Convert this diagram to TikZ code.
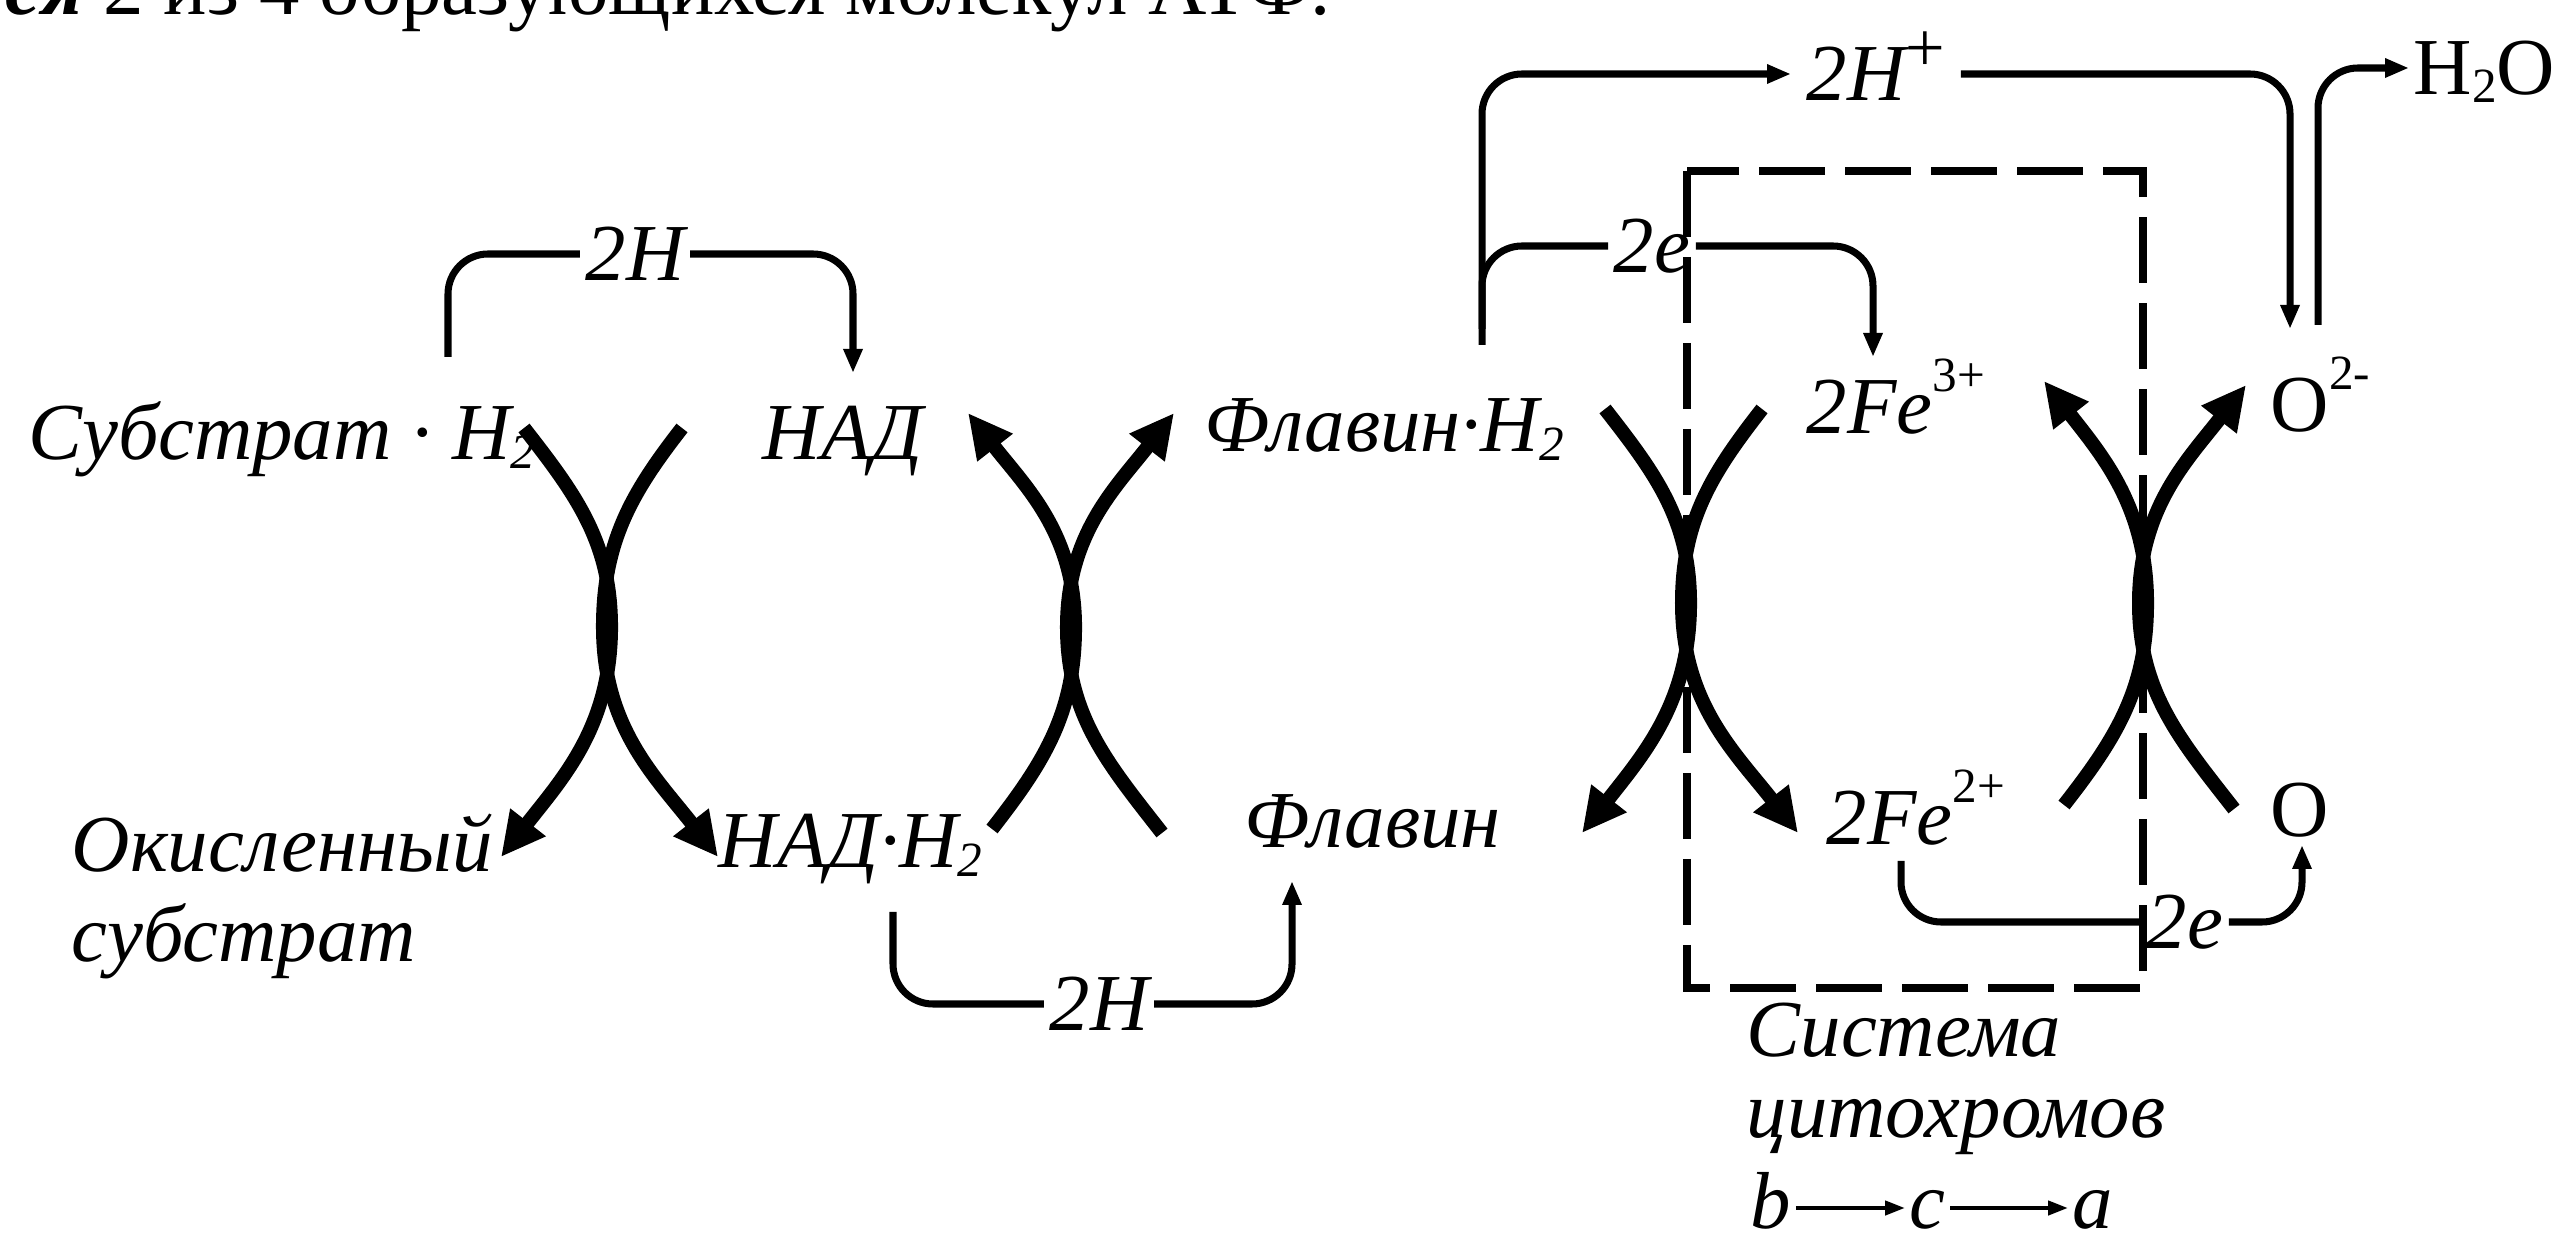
\documentclass[tikz,border=0pt]{standalone}
\usepackage{fontspec}
\setmainfont{Liberation Serif}
\usetikzlibrary{arrows.meta}
\newcommand{\bigsize}{\fontsize{23}{27}\selectfont}
\newcommand{\chg}[1]{\raisebox{0.52em}[0pt][0pt]{\fontsize{14}{14}\selectfont\upshape #1}}
\newcommand{\lowtwo}{\raisebox{-0.1em}[0pt][0pt]{\fontsize{14}{14}\selectfont 2}}
\begin{document}
\begin{tikzpicture}[
  txt/.style={inner sep=0pt, anchor=base west, font=\bigsize\itshape},
  rom/.style={inner sep=0pt, anchor=base west, font=\bigsize},
  lbl/.style={inner sep=0.05cm, font=\bigsize\itshape},
  cyt/.style={txt, text height=0.4cm, text depth=0cm, inner xsep=0.04cm},
  big/.style={line width=4pt, -{Triangle[length=0.44cm,width=0.42cm]}},
  link/.style={line width=2pt, rounded corners=0.4cm},
  hd/.style={-{Triangle[length=0.24cm,width=0.18cm]}},
  sys/.style={line width=2.5pt, dash pattern=on 0.66cm off 0.2cm}
]
\useasboundingbox (0,0) rectangle (25.58,12.44);
\clip (0,0) rectangle (25.58,12.44);

\node[rom] (head) at (0.05,12.29) {\textbf{\textit{ся}} 2 из 4 образующихся молекул АТФ.};

\node[txt] (sub) at (0.28,7.84) {Субстрат · H\lowtwo};
\node[txt] (nad) at (7.62,7.84) {НАД};
\node[txt] (flh) at (12.04,7.92) {Флавин·H\lowtwo};
\node[txt] (fe3) at (18.06,8.10) {2Fe\chg{3+}};
\node[rom] (o2) at (22.70,8.12) {O\chg{2-}};
\node[txt] (oks) at (0.71,3.72) {Окисленный};
\node[txt] (oks2) at (0.71,2.82) {субстрат};
\node[txt] (nadh) at (7.18,3.76) {НАД·H\lowtwo};
\node[txt] (fl) at (12.44,3.96) {Флавин};
\node[txt] (fe2) at (18.26,3.99) {2Fe\chg{2+}};
\node[rom] (o) at (22.70,4.07) {O};

\node[lbl] (h2a) at (6.35,9.90) {2H};
\node[lbl] (h2b) at (10.99,2.40) {2H};
\node[lbl] (e1) at (16.52,9.98) {2e};
\node[lbl] (e2) at (21.85,3.22) {2e};
\node[lbl, anchor=west, inner sep=0.15cm] (hp) at (17.91,11.70) {2H\raisebox{0.36em}[0pt][0pt]{\fontsize{20}{20}\selectfont\upshape +}};
\node[rom, anchor=west, inner sep=0.04cm] (water) at (24.09,11.76) {H\lowtwo O};

\node[txt] (sys1) at (17.46,1.88) {Система};
\node[txt] (sys2) at (17.46,1.07) {цитохромов};
\node[cyt] (cb) at (17.46,0.16) {b};
\node[cyt] (cc) at (19.05,0.16) {c};
\node[cyt] (ca) at (20.68,0.16) {a};
\draw[line width=1.2pt, -{Triangle[length=0.2cm,width=0.14cm]}] (cb) -- (cc);
\draw[line width=1.2pt, -{Triangle[length=0.2cm,width=0.14cm]}] (cc) -- (ca);

\draw[sys] (16.87,10.73) rectangle (21.43,2.56);

\coordinate (x1a) at (5.24,8.16);
\coordinate (x1b) at (6.82,8.16);
\coordinate (x1d) at (5.01,3.87);
\coordinate (x1e) at (7.18,3.87);
\coordinate (m1l) at (6.03,6.17);
\coordinate (m1r) at (6.11,6.17);
\draw[big] (x1a) to[out=-52,in=90] (m1r) to[out=-90,in=52] (x1d);
\draw[big] (x1b) to[out=-128,in=90] (m1l) to[out=-90,in=128] (x1e);

\coordinate (x2a) at (9.92,4.15);
\coordinate (x2b) at (11.62,4.11);
\coordinate (x2d) at (9.68,8.31);
\coordinate (x2e) at (11.74,8.31);
\coordinate (m2l) at (10.67,6.17);
\coordinate (m2r) at (10.75,6.17);
\draw[big] (x2a) to[out=52,in=-90] (m2r) to[out=90,in=-52] (x2d);
\draw[big] (x2b) to[out=128,in=-90] (m2l) to[out=90,in=-128] (x2e);

\coordinate (x3a) at (16.05,8.35);
\coordinate (x3b) at (17.62,8.35);
\coordinate (x3d) at (15.82,4.11);
\coordinate (x3e) at (17.98,4.11);
\coordinate (m3l) at (16.82,6.41);
\coordinate (m3r) at (16.90,6.41);
\draw[big] (x3a) to[out=-52,in=90] (m3r) to[out=-90,in=52] (x3d);
\draw[big] (x3b) to[out=-128,in=90] (m3l) to[out=-90,in=128] (x3e);

\coordinate (x4a) at (20.64,4.39);
\coordinate (x4b) at (22.34,4.35);
\coordinate (x4d) at (20.44,8.63);
\coordinate (x4e) at (22.46,8.59);
\coordinate (m4l) at (21.39,6.41);
\coordinate (m4r) at (21.47,6.41);
\draw[big] (x4a) to[out=52,in=-90] (m4r) to[out=90,in=-52] (x4d);
\draw[big] (x4b) to[out=128,in=-90] (m4l) to[out=90,in=-128] (x4e);

\coordinate (s1) at (4.48,8.87);
\coordinate (t1) at (8.53,8.71);
\draw[link] (s1) |- (h2a);
\draw[link, hd] (h2a) -| (t1);

\coordinate (s6) at (8.93,3.32);
\coordinate (t6) at (12.92,3.63);
\draw[link] (s6) |- (h2b);
\draw[link, hd] (h2b) -| (t6);

\coordinate (s2) at (14.82,8.99);
\coordinate (s4) at (14.82,9.15);
\coordinate (t4) at (18.73,8.87);
\coordinate (t3) at (22.90,9.15);
\coordinate (s3) at (23.18,9.19);
\draw[link, hd] (s2) |- (hp);
\draw[link] (s4) |- (e1);
\draw[link, hd] (e1) -| (t4);
\draw[link, hd] (hp) -| (t3);
\draw[link, hd] (s3) |- (water);

\coordinate (s5) at (19.01,3.83);
\coordinate (t5) at (23.02,3.99);
\draw[link] (s5) |- (e2);
\draw[link, hd] (e2) -| (t5);
\end{tikzpicture}
\end{document}
